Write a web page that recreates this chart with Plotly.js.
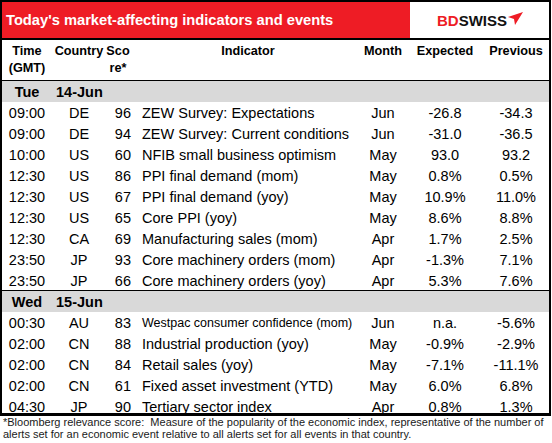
<!DOCTYPE html>
<html><head><meta charset="utf-8">
<script src="https://cdn.plot.ly/plotly-3.0.1.min.js"></script>
<style>html,body{margin:0;padding:0;background:#fff;overflow:hidden}#chart{width:552px;height:443px}</style>
</head><body><div id="chart"></div>
<script>
// ---------------- data ----------------
const titleText = "Today's market-affecting indicators and events";
const brandRed = "BD";
const brandBlack = "SWISS";
const headerLabels = ["Time<br>(GMT)", "Country", "Sco<br>re*", "Indicator", "Month", "Expected", "Previous"];
const dayNames = ["Tue", "Wed"];
const dayDates = ["14-Jun", "15-Jun"];
const eventDay = [0, 0, 0, 0, 0, 0, 0, 0, 0, 1, 1, 1, 1, 1];
const times = ["09:00", "09:00", "10:00", "12:30", "12:30", "12:30", "12:30", "23:50", "23:50",
               "00:30", "02:00", "02:00", "02:00", "04:30"];
const countries = ["DE", "DE", "US", "US", "US", "US", "CA", "JP", "JP",
                   "AU", "CN", "CN", "CN", "JP"];
const scores = [96, 94, 60, 86, 67, 65, 69, 93, 66, 83, 88, 84, 61, 90];
const indicators = ["ZEW Survey: Expectations", "ZEW Survey: Current conditions", "NFIB small business optimism",
  "PPI final demand (mom)", "PPI final demand (yoy)", "Core PPI (yoy)", "Manufacturing sales (mom)",
  "Core machinery orders (mom)", "Core machinery orders (yoy)",
  "Westpac consumer confidence (mom)", "Industrial production (yoy)", "Retail sales (yoy)",
  "Fixed asset investment (YTD)", "Tertiary sector index"];
const months = ["Jun", "Jun", "May", "May", "May", "May", "Apr", "Apr", "Apr",
                "Jun", "May", "May", "May", "Apr"];
const expected = ["-26.8", "-31.0", "93.0", "0.8%", "10.9%", "8.6%", "1.7%", "-1.3%", "5.3%",
                  "n.a.", "-0.9%", "-7.1%", "6.0%", "0.8%"];
const previous = ["-34.3", "-36.5", "93.2", "0.5%", "11.0%", "8.8%", "2.5%", "7.1%", "7.6%",
                  "-5.6%", "-2.9%", "-11.1%", "6.8%", "1.3%"];
const footnoteLines = [
  "*Bloomberg relevance score:\u00a0 Measure of the popularity of the economic index, representative of the number of",
  "alerts set for an economic event relative to all alerts set for all events in that country."
];

// ---------------- layout constants ----------------
const W = 552, H = 443;
const FONT = "Liberation Sans, Arial, sans-serif";
const RED = "#EE1C25", GRAY = "#D9D9D9";
const ROW_H = 21, FIRST_ROW_TOP = 81;
const DATA_FS = 14.5, SMALL_FS = 12.5, HEAD_FS = 12.7, DAY_FS = 14.5;
// column anchors: [x, textposition]
const dataCols = [
  [27, "middle center"], [79, "middle center"], [131, "middle left"], [142, "middle right"],
  [383, "middle center"], [445, "middle center"], [516, "middle center"]
];
const headCols = [
  [27, "bottom center"], [79, "bottom center"], [118, "bottom center"], [248, "bottom center"],
  [383, "bottom center"], [445, "bottom center"], [516, "bottom center"]
];
const HEAD_Y = 45.5;

// visual-centre correction for svg text placement
const yText = (c, fs) => c + 0.108 * fs;
const rowCenter = k => FIRST_ROW_TOP + ROW_H * k + ROW_H / 2;

// assign rows
const dayRow = [];
const eventRow = [];
let r = 0;
dayNames.forEach((d, di) => {
  dayRow.push(r++);
  eventDay.forEach((ed, i) => { if (ed === di) eventRow[i] = r++; });
});

const traces = [];
function textTrace(xs, ys, texts, pos, font) {
  traces.push({
    type: "scatter", mode: "text", x: xs, y: ys, text: texts,
    textposition: pos, textfont: font, hoverinfo: "skip", cliponaxis: false, showlegend: false
  });
}

// column headers
textTrace(headCols.map(c => c[0]), headCols.map(() => HEAD_Y), headerLabels, headCols.map(c => c[1]),
  {family: FONT, size: HEAD_FS, color: "#000", weight: 700});

// day rows
textTrace(dayRow.map(() => 27), dayRow.map(k => yText(rowCenter(k), DAY_FS)), dayNames, "middle center",
  {family: FONT, size: DAY_FS, color: "#000", weight: 700});
textTrace(dayRow.map(() => 56), dayRow.map(k => yText(rowCenter(k), DAY_FS)), dayDates, "middle right",
  {family: FONT, size: DAY_FS, color: "#000", weight: 700});

// data columns
const columns = [times, countries, scores.map(String), indicators, months, expected, previous];
columns.forEach((vals, ci) => {
  const sizes = ci === 3 ? vals.map(s => s.length > 31 ? SMALL_FS : DATA_FS) : vals.map(() => DATA_FS);
  textTrace(vals.map(() => dataCols[ci][0]), vals.map((v, i) => yText(rowCenter(eventRow[i]), sizes[i])),
    vals, dataCols[ci][1], {family: FONT, size: sizes, color: "#000"});
});

// shapes
const shapes = [];
shapes.push({type: "rect", xref: "x", yref: "y", x0: 2, x1: 410, y0: 1, y1: 38, fillcolor: RED, line: {width: 0}, layer: "below"});
dayRow.forEach(k => {
  const top = FIRST_ROW_TOP + ROW_H * k;
  shapes.push({type: "rect", xref: "x", yref: "y", x0: 1, x1: 550, y0: top, y1: top + ROW_H, fillcolor: GRAY, line: {width: 0}, layer: "below"});
  shapes.push({type: "line", xref: "x", yref: "y", x0: 1, x1: 550, y0: top - 0.5, y1: top - 0.5, line: {color: "#000", width: 1}});
});
shapes.push({type: "line", xref: "x", yref: "y", x0: 0, x1: 551, y0: 39, y1: 39, line: {color: "#000", width: 2}});
shapes.push({type: "rect", xref: "x", yref: "y", x0: 1, x1: 550, y0: 1, y1: 414, line: {color: "#000", width: 2}, fillcolor: "rgba(0,0,0,0)"});
shapes.push({type: "line", xref: "x", yref: "y", x0: 0, x1: 551, y0: 414.5, y1: 414.5, line: {color: "#000", width: 3}});
// brand mark (paper plane)
shapes.push({type: "path", xref: "x", yref: "y", path: "M 508 17 L 523 12 L 515 25 L 514 19 Z", fillcolor: RED, line: {width: 0}});

const annotations = [
  {xref: "x", yref: "y", x: 4, y: 20, xanchor: "left", yanchor: "middle", showarrow: false,
   text: titleText, font: {family: FONT, size: 14.7, color: "#fff", weight: 700}},
  {xref: "x", yref: "y", x: 435, y: 20, xanchor: "left", yanchor: "middle", showarrow: false,
   text: '<span style="color:' + RED + '">' + brandRed + '</span>' + brandBlack,
   font: {family: FONT, size: 15, color: "#111", weight: 700}}
];
footnoteLines.forEach((t, i) => annotations.push({
  xref: "x", yref: "y", x: 1, y: 422 + 12 * i, xanchor: "left", yanchor: "middle", showarrow: false,
  text: t, font: {family: FONT, size: 11, color: "#1a1a1a"}
}));

const layout = {
  width: W, height: H, margin: {l: 0, r: 0, t: 0, b: 0},
  paper_bgcolor: "#fff", plot_bgcolor: "#fff",
  xaxis: {range: [0, W], visible: false, fixedrange: true},
  yaxis: {range: [H, 0], visible: false, fixedrange: true},
  shapes, annotations, showlegend: false
};
Plotly.newPlot("chart", traces, layout, {staticPlot: true, displayModeBar: false});
</script></body></html>
